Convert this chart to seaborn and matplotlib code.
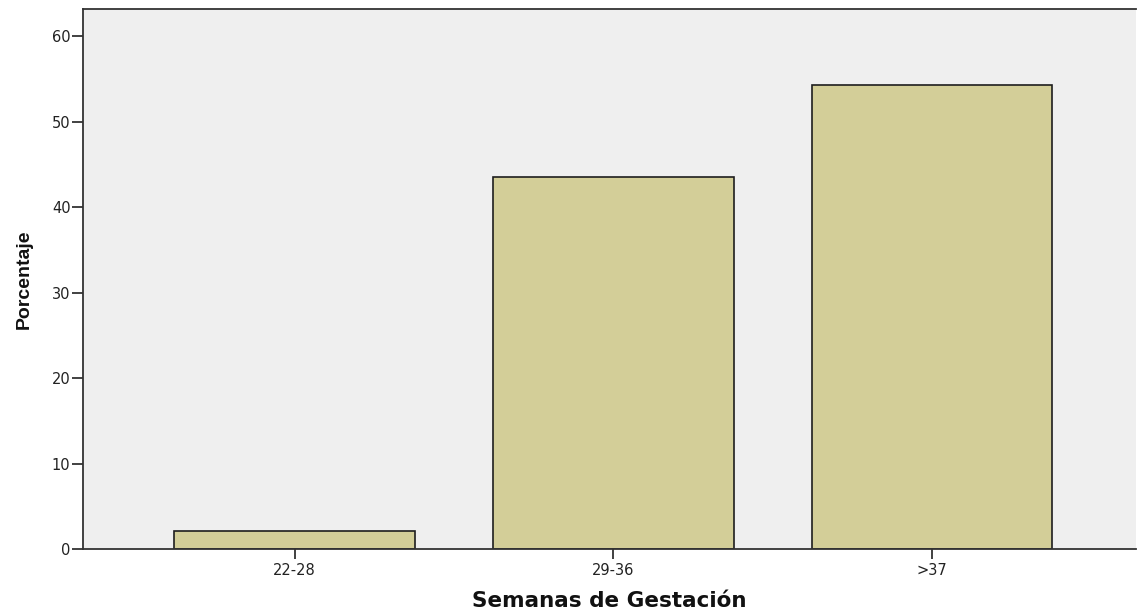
import matplotlib
matplotlib.use("Agg")
import matplotlib.pyplot as plt
import seaborn as sns
import pandas as pd

categories = ["22-28", "29-36", ">37"]
percentages = [2.2, 43.5, 54.3]
yticks = [0, 10, 20, 30, 40, 50, 60]

sns.set_style("white")
plt.rcParams['font.family'] = ['DejaVu Sans']

df = pd.DataFrame({"Semanas": categories, "Porcentaje": percentages})

fig = plt.figure(figsize=(11.4, 6.11), dpi=100)
ax = fig.add_axes([0.0728, 0.1007, 0.9237, 0.8846])
ax.set_facecolor("#EFEFEF")

sns.barplot(data=df, x="Semanas", y="Porcentaje", ax=ax, color="#D3CE98",
            saturation=1, width=0.755, edgecolor="#1E1E1E", linewidth=1.2)

ax.set_xlim(-0.664, 2.64)
ax.set_ylim(0, 63.2)
ax.set_yticks(yticks)
ax.set_yticklabels([str(t) for t in yticks])

for s in ["left", "bottom", "top"]:
    ax.spines[s].set_visible(True)
    ax.spines[s].set_color("#333333")
    ax.spines[s].set_linewidth(1.3)
ax.spines["right"].set_visible(False)

ax.tick_params(axis="y", direction="out", length=8, width=1.3, color="#333333",
               labelsize=10.5, labelcolor="#222222", pad=1, left=True)
ax.tick_params(axis="x", direction="out", length=7, width=1.3, color="#333333",
               labelsize=10.5, labelcolor="#222222", pad=3, bottom=True)

ax.set_xlabel("Semanas de Gestación", fontsize=15.5, fontweight="bold", labelpad=9,
              color="#111111")
ax.set_ylabel("Porcentaje", fontsize=14, fontweight="bold", labelpad=14,
              color="#111111", family=['Liberation Sans', 'DejaVu Sans'])

fig.savefig("out.png", dpi=100)
